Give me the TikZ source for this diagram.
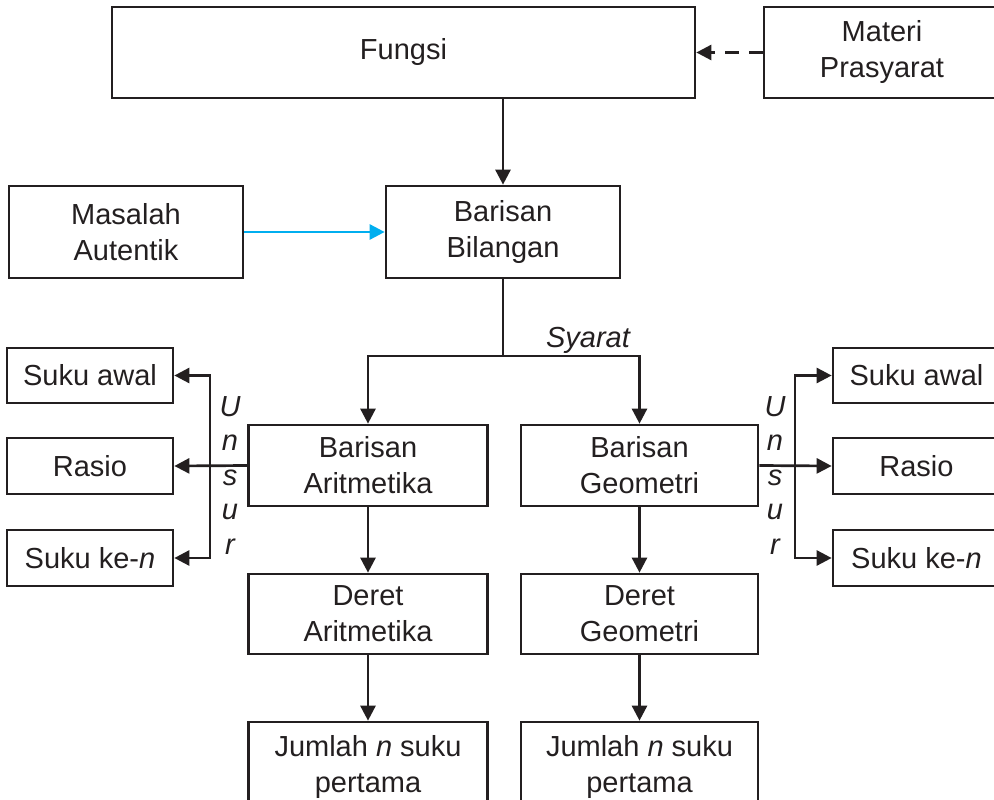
\documentclass[tikz,border=0pt]{standalone}
\usepackage{fontspec}
\setmainfont{Liberation Sans}
\usetikzlibrary{arrows.meta}
\definecolor{ink}{HTML}{231F20}
\definecolor{sky}{HTML}{00AEEF}
\tikzset{
  box/.style={draw=ink, line width=2.7pt, align=center, inner sep=0pt, text=ink,
    font=\fontsize{29}{36}\selectfont},
  arr/.style={draw=ink, line width=2.7pt, -{Triangle[length=15pt,width=15pt]}},
  arrboth/.style={draw=ink, line width=2.7pt, {Triangle[length=15pt,width=15pt]}-{Triangle[length=15pt,width=15pt]}},
  lbl/.style={text=ink, font=\fontsize{29}{36}\selectfont\itshape, inner sep=0pt},
}
\begin{document}
\begin{tikzpicture}[x=1pt,y=-1pt]
\useasboundingbox (0,0) rectangle (994,800);
\clip (0,0) rectangle (994,800);
% nodes
\node[box, minimum width=583pt, minimum height=91pt] (fun) at (403.5,52.5) {Fungsi};
\node[box, minimum width=236pt, minimum height=91pt] (mat) at (882,52.5) {Materi\\Prasyarat};
\node[box, minimum width=234pt, minimum height=92pt] (mas) at (126,232) {Masalah\\Autentik};
\node[box, minimum width=234pt, minimum height=92pt] (bb) at (503,232) {Barisan\\Bilangan};
\node[box, minimum width=239pt, minimum height=81pt] (ba) at (368,465.5) {Barisan\\Aritmetika};
\node[box, minimum width=237pt, minimum height=81pt] (bg) at (639.5,465.5) {Barisan\\Geometri};
\node[box, minimum width=239pt, minimum height=80pt] (da) at (368,614) {Deret\\Aritmetika};
\node[box, minimum width=237pt, minimum height=80pt] (dg) at (639.5,614) {Deret\\Geometri};
\node[box, minimum width=239pt, minimum height=90pt] (ja) at (368,767) {Jumlah \textit{n} suku\\pertama};
\node[box, minimum width=237pt, minimum height=90pt] (jg) at (639.5,767) {Jumlah \textit{n} suku\\pertama};
% left elements
\node[box, minimum width=166pt, minimum height=55pt] (sa1) at (90,375.5) {Suku awal};
\node[box, minimum width=166pt, minimum height=56pt] (ra1) at (90,466) {Rasio};
\node[box, minimum width=166pt, minimum height=56pt] (sk1) at (90,558) {Suku ke-\textit{n}};
% right elements
\node[box, minimum width=167pt, minimum height=55pt] (sa2) at (916.5,375.5) {Suku awal};
\node[box, minimum width=167pt, minimum height=56pt] (ra2) at (916.5,466) {Rasio};
\node[box, minimum width=167pt, minimum height=56pt] (sk2) at (916.5,558) {Suku ke-\textit{n}};
% labels
\node[lbl, anchor=base] (sy) at (588,347) {Syarat};
\foreach \ch/\yy/\nm in {U/416/a,n/450.5/b,s/485/c,u/519.5/d,r/554/e}{
  \node[lbl, anchor=base] (l\nm) at (230,\yy) {\ch};
  \node[lbl, anchor=base] (r\nm) at (775,\yy) {\ch};
}
% coordinates
\coordinate (j) at (503,356);
\coordinate (lx) at (210,0);
\coordinate (rx) at (795,0);
% connectors
\draw[arr, dash pattern=on 14pt off 10pt] (mat.west) -- (fun.east);
\draw[arr] (fun.south -| bb.north) -- (bb.north);
\draw[arr, draw=sky, -{Triangle[length=15pt,width=15pt,fill=sky]}] (mas.east) -- (bb.west);
\draw[draw=ink, line width=2.7pt] (bb.south) -- (j);
\draw[arr] (j) -| (ba.north);
\draw[arr] (j) -| (bg.north);
\draw[arr] (ba.south) -- (da.north);
\draw[arr] (bg.south) -- (dg.north);
\draw[arr] (da.south) -- (ja.north);
\draw[arr] (dg.south) -- (jg.north);
\draw[arr] (ba.west) -- (ra1.east);
\draw[arr] (bg.east) -- (ra2.west);
\draw[arrboth] (sa1.east) -- (sa1.east -| lx) -- (sk1.east -| lx) -- (sk1.east);
\draw[arrboth] (sa2.west) -- (sa2.west -| rx) -- (sk2.west -| rx) -- (sk2.west);
\end{tikzpicture}
\end{document}
